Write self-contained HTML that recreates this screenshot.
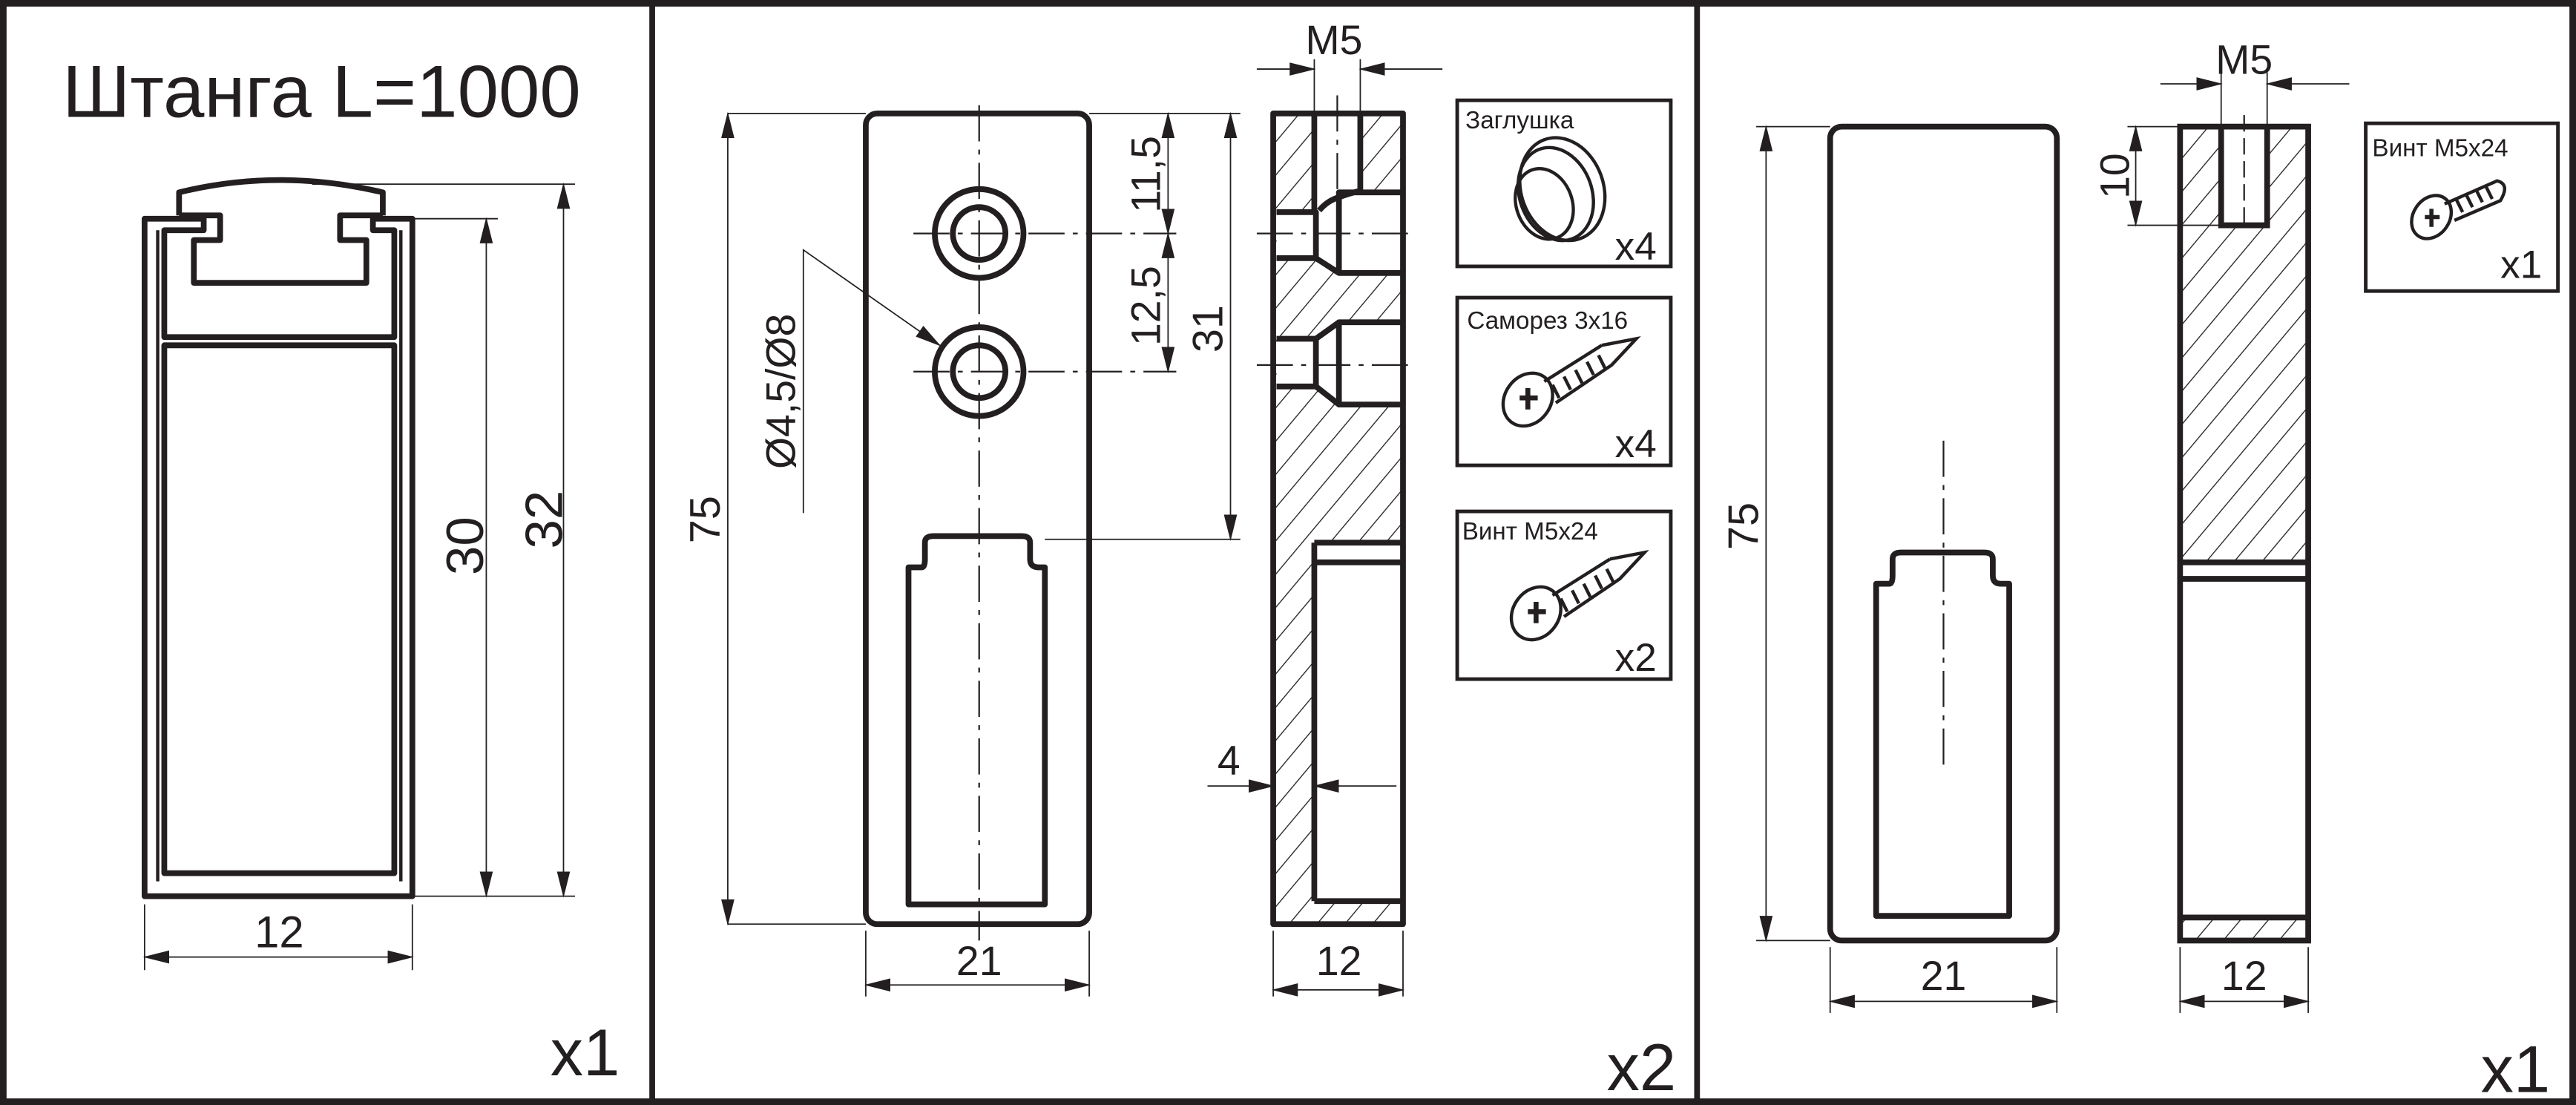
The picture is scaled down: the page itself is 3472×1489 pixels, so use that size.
<!DOCTYPE html>
<html><head><meta charset="utf-8"><style>
html,body{margin:0;padding:0;background:#fff;}
svg{display:block;}
text{font-family:"Liberation Sans","DejaVu Sans",sans-serif;fill:#231f20;}
</style></head><body>
<svg width="3472" height="1489" viewBox="0 0 1568 672" preserveAspectRatio="none" xmlns="http://www.w3.org/2000/svg">
<defs>
<pattern id="h" patternUnits="userSpaceOnUse" width="13" height="13" patternTransform="rotate(40)">
<line x1="0" y1="0" x2="0" y2="13" stroke="#231f20" stroke-width="1.2"/>
</pattern>
<marker id="a" markerUnits="userSpaceOnUse" markerWidth="16" markerHeight="8" refX="15" refY="4" orient="auto">
<path d="M0,0 L16,4 L0,8 Z" fill="#231f20"/>
</marker>
<marker id="s" markerUnits="userSpaceOnUse" markerWidth="16" markerHeight="8" refX="1" refY="4" orient="auto">
<path d="M16,0 L0,4 L16,8 Z" fill="#231f20"/>
</marker>
</defs>
<rect x="0" y="0" width="1568" height="672" fill="#fff"/>
<g fill="none" stroke="#231f20">
<rect x="2" y="2" width="1564" height="668" stroke-width="4"/>
<line x1="397" y1="0" x2="397" y2="672" stroke-width="3.5"/>
<line x1="1033" y1="0" x2="1033" y2="672" stroke-width="3.5"/>

<g stroke-width="3.5" stroke-linejoin="round">
<path d="M88,545 L88,133 L124,133 L124,140 L100,140 L100,205 L240,205 L240,140 L227,140 L227,133 L251,133 L251,545 Z"/>
<path d="M109,131 L109,117 Q170,102 233,117 L233,131"/>
<path d="M109,131 L134,131 L134,146 L118,146 L118,172 L223,172 L223,146 L207,146 L207,131 L233,131"/>
<rect x="100" y="210" width="140" height="321"/>
<line x1="96" y1="140" x2="96" y2="536" stroke-width="2"/>
<line x1="244" y1="140" x2="244" y2="536" stroke-width="2"/>
</g>
<g stroke-width="0.8">
<line x1="190" y1="112" x2="350" y2="112"/>
<line x1="251" y1="545" x2="350" y2="545"/>
<line x1="251" y1="133" x2="303" y2="133"/>
<line x1="88" y1="550" x2="88" y2="590"/>
<line x1="251" y1="550" x2="251" y2="590"/>
<line x1="343" y1="112" x2="343" y2="545" marker-start="url(#s)" marker-end="url(#a)"/>
<line x1="296" y1="133" x2="296" y2="545" marker-start="url(#s)" marker-end="url(#a)"/>
<line x1="88" y1="582" x2="251" y2="582" marker-start="url(#s)" marker-end="url(#a)"/>
</g>

<g stroke-width="3.5">
<rect x="527" y="69" width="136" height="493" rx="7"/>
<circle cx="596" cy="142" r="27"/><circle cx="596" cy="142" r="16"/>
<circle cx="596" cy="226" r="27"/><circle cx="596" cy="226" r="16"/>
<path d="M553,550 L553,345 L561,345 Q563,345 563,340 L563,330 Q563,326 568,326 L622,326 Q627,326 627,330 L627,340 Q627,345 632,345 L636,345 L636,550 Z" stroke-linejoin="round"/>
</g>
<g stroke-width="1" stroke-dasharray="22,5,3,5">
<line x1="596" y1="64" x2="596" y2="572"/>
<line x1="556" y1="142" x2="716" y2="142"/>
<line x1="556" y1="226" x2="716" y2="226"/>
</g>
<g stroke-width="0.8">
<line x1="443" y1="69" x2="527" y2="69"/>
<line x1="443" y1="562" x2="527" y2="562"/>
<line x1="443" y1="69" x2="443" y2="562" marker-start="url(#s)" marker-end="url(#a)"/>
<line x1="663" y1="69" x2="755" y2="69"/>
<line x1="636" y1="328" x2="755" y2="328"/>
<line x1="749" y1="69" x2="749" y2="328" marker-start="url(#s)" marker-end="url(#a)"/>
<line x1="711" y1="69" x2="711" y2="142" marker-start="url(#s)" marker-end="url(#a)"/>
<line x1="711" y1="142" x2="711" y2="226" marker-start="url(#s)" marker-end="url(#a)"/>
<polyline points="489,312 489,152 572,210" marker-end="url(#a)"/>
<line x1="527" y1="566" x2="527" y2="606"/>
<line x1="663" y1="566" x2="663" y2="606"/>
<line x1="527" y1="599" x2="663" y2="599" marker-start="url(#s)" marker-end="url(#a)"/>
</g>

<rect x="775" y="69" width="79" height="493" fill="url(#h)" stroke="none"/>
<g fill="#fff" stroke="none">
<path d="M800,69 L828,69 L828,116 L815,118 L815,122 L801,130 L800,130 Z"/>
<path d="M777,129 L801,129 L815,117 L853,117 L853,166 L815,166 L801,157 L777,157 Z"/>
<path d="M777,206 L801,206 L815,196 L853,196 L853,246 L815,246 L801,235 L777,235 Z"/>
<rect x="800" y="330" width="54" height="218"/>
</g>
<g stroke-width="3.5" stroke-linejoin="round">
<rect x="775" y="69" width="79" height="493"/>
<path d="M800,69 L800,128 M828,69 L828,116 Q820,118 815,120 Q808,122 803,128"/>
<path d="M777,129 L801,129 L801,157 L777,157 M854,117 L815,117 L815,166 L854,166 M801,157 L815,166"/>
<path d="M777,206 L801,206 L801,235 L777,235 M854,196 L815,196 L815,246 L854,246 M801,206 L815,196 M801,235 L815,246"/>
<line x1="800" y1="330" x2="854" y2="330"/>
<line x1="800" y1="342" x2="854" y2="342"/>
<line x1="800" y1="330" x2="800" y2="548"/>
<line x1="800" y1="548" x2="854" y2="548"/>
</g>
<g stroke-width="1" stroke-dasharray="22,5,3,5">
<line x1="814" y1="58" x2="814" y2="130"/>
<line x1="765" y1="142" x2="862" y2="142"/>
<line x1="765" y1="222" x2="862" y2="222"/>
</g>
<g stroke-width="0.8">
<line x1="800" y1="36" x2="800" y2="69"/>
<line x1="828" y1="36" x2="828" y2="69"/>
<line x1="765" y1="42" x2="800" y2="42" marker-end="url(#a)"/>
<line x1="878" y1="42" x2="828" y2="42" marker-end="url(#a)"/>
<line x1="735" y1="478" x2="775" y2="478" marker-end="url(#a)"/>
<line x1="850" y1="478" x2="800" y2="478" marker-end="url(#a)"/>
<line x1="775" y1="566" x2="775" y2="606"/>
<line x1="854" y1="566" x2="854" y2="606"/>
<line x1="775" y1="602" x2="854" y2="602" marker-start="url(#s)" marker-end="url(#a)"/>
</g>

<g stroke-width="2.2">
<rect x="887" y="61" width="130" height="101"/>
<rect x="887" y="181" width="130" height="102"/>
<rect x="887" y="311" width="130" height="102"/>
<rect x="1440" y="75" width="117" height="102"/>
</g>
<g stroke-width="2">
<ellipse cx="951" cy="115" rx="25" ry="32" transform="rotate(-20 951 115)"/>
<ellipse cx="947" cy="118" rx="22" ry="29" transform="rotate(-20 947 118)"/>
<ellipse cx="940" cy="124" rx="17" ry="22" transform="rotate(-20 940 124)"/>
</g>
<g id="scr" stroke-width="2">
<ellipse cx="930" cy="243" rx="14" ry="17" transform="rotate(35 930 243)"/>
<path d="M925,242 L936,242 M930,236 L930,249" stroke-width="3"/>
<path d="M940,232 L975,210 M947,245 L981,222 L996,206 L975,210"/>
<path d="M945,234 l4,8 M952,229 l4,8 M959,225 l4,8 M966,220 l4,8 M973,216 l4,8"/>
</g>
<use href="#scr" transform="translate(5,130)"/>
<g stroke-width="2">
<ellipse cx="1480" cy="132" rx="11" ry="14" transform="rotate(35 1480 132)"/>
<path d="M1476,132 L1485,132 M1480,127 L1480,138" stroke-width="2.5"/>
<path d="M1488,124 L1520,110 Q1528,112 1522,122 L1494,134"/>
<path d="M1495,121 l4,8 M1501,118 l4,8 M1507,115 l4,8 M1513,113 l4,8"/>
</g>

<g stroke-width="3.5">
<rect x="1114" y="77" width="138" height="495" rx="7"/>
<path d="M1142,557 L1142,355 L1150,355 Q1152,355 1152,350 L1152,340 Q1152,336 1157,336 L1208,336 Q1213,336 1213,340 L1213,350 Q1213,355 1218,355 L1223,355 L1223,557 Z" stroke-linejoin="round"/>
</g>
<line x1="1183" y1="268" x2="1183" y2="470" stroke-width="1" stroke-dasharray="22,5,3,5"/>
<g stroke-width="0.8">
<line x1="1069" y1="77" x2="1114" y2="77"/>
<line x1="1069" y1="572" x2="1114" y2="572"/>
<line x1="1075" y1="77" x2="1075" y2="572" marker-start="url(#s)" marker-end="url(#a)"/>
<line x1="1114" y1="576" x2="1114" y2="616"/>
<line x1="1252" y1="576" x2="1252" y2="616"/>
<line x1="1114" y1="609" x2="1252" y2="609" marker-start="url(#s)" marker-end="url(#a)"/>
</g>
<rect x="1327" y="77" width="78" height="495" fill="url(#h)" stroke="none"/>
<g fill="#fff" stroke="none">
<rect x="1352" y="77" width="28" height="60"/>
<rect x="1327" y="342" width="78" height="216"/>
</g>
<g stroke-width="3.5">
<rect x="1327" y="77" width="78" height="495"/>
<path d="M1352,77 L1352,137 L1380,137 L1380,77"/>
<line x1="1327" y1="342" x2="1405" y2="342"/>
<line x1="1327" y1="352" x2="1405" y2="352"/>
<line x1="1327" y1="558" x2="1405" y2="558"/>
</g>
<line x1="1366" y1="70" x2="1366" y2="137" stroke-width="1" stroke-dasharray="10,4"/>
<g stroke-width="0.8">
<line x1="1352" y1="44" x2="1352" y2="77"/>
<line x1="1380" y1="44" x2="1380" y2="77"/>
<line x1="1315" y1="51" x2="1352" y2="51" marker-end="url(#a)"/>
<line x1="1430" y1="51" x2="1380" y2="51" marker-end="url(#a)"/>
<line x1="1295" y1="77" x2="1352" y2="77"/>
<line x1="1295" y1="137" x2="1352" y2="137"/>
<line x1="1300" y1="77" x2="1300" y2="137" marker-start="url(#s)" marker-end="url(#a)"/>
<line x1="1327" y1="576" x2="1327" y2="616"/>
<line x1="1405" y1="576" x2="1405" y2="616"/>
<line x1="1327" y1="609" x2="1405" y2="609" marker-start="url(#s)" marker-end="url(#a)"/>
</g>
</g>

<text x="38" y="71" font-size="45">Штанга L=1000</text>
<text x="170" y="576" font-size="27" text-anchor="middle">12</text>
<text transform="translate(342,316) rotate(-90)" font-size="32" text-anchor="middle">32</text>
<text transform="translate(294,332) rotate(-90)" font-size="32" text-anchor="middle">30</text>
<text x="335" y="654" font-size="40">x1</text>

<text transform="translate(438,316) rotate(-90)" font-size="26" text-anchor="middle">75</text>
<text transform="translate(744,200) rotate(-90)" font-size="26" text-anchor="middle">31</text>
<text transform="translate(706,106) rotate(-90)" font-size="25" text-anchor="middle">11,5</text>
<text transform="translate(706,186) rotate(-90)" font-size="25" text-anchor="middle">12,5</text>
<text transform="translate(484,238) rotate(-90)" font-size="25" text-anchor="middle">Ø4,5/Ø8</text>
<text x="596" y="593" font-size="25" text-anchor="middle">21</text>
<text x="812" y="33" font-size="25" text-anchor="middle">M5</text>
<text x="748" y="471" font-size="25" text-anchor="middle">4</text>
<text x="815" y="593" font-size="25" text-anchor="middle">12</text>
<text x="892" y="78" font-size="15">Заглушка</text>
<text x="983" y="158" font-size="24">x4</text>
<text x="893" y="200" font-size="15">Саморез 3x16</text>
<text x="983" y="278" font-size="24">x4</text>
<text x="890" y="328" font-size="15">Винт М5х24</text>
<text x="983" y="408" font-size="24">x2</text>
<text x="978" y="663" font-size="40">x2</text>

<text transform="translate(1070,320) rotate(-90)" font-size="26" text-anchor="middle">75</text>
<text x="1183" y="602" font-size="25" text-anchor="middle">21</text>
<text x="1366" y="45" font-size="25" text-anchor="middle">M5</text>
<text transform="translate(1296,107) rotate(-90)" font-size="25" text-anchor="middle">10</text>
<text x="1366" y="602" font-size="25" text-anchor="middle">12</text>
<text x="1444" y="95" font-size="15">Винт М5х24</text>
<text x="1522" y="169" font-size="24">x1</text>
<text x="1510" y="664" font-size="40">x1</text>
</svg>
</body></html>
